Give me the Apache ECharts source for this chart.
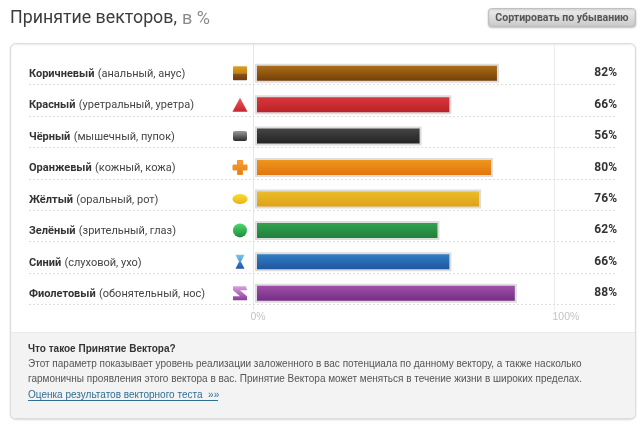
<!DOCTYPE html>
<html><head><meta charset="utf-8">
<style>html,body{margin:0;padding:0;background:#fff}#c{width:640px;height:430px}</style>
<script src="https://cdn.jsdelivr.net/npm/echarts@6/dist/echarts.min.js"></script>
</head><body><div id="c"></div>
<script>
const colorNames = ['Коричневый','Красный','Чёрный','Оранжевый','Жёлтый','Зелёный','Синий','Фиолетовый'];
const organNames = ['(анальный, анус)','(уретральный, уретра)','(мышечный, пупок)','(кожный, кожа)','(оральный, рот)','(зрительный, глаз)','(слуховой, ухо)','(обонятельный, нос)'];
const acceptance = [82,66,56,80,76,62,66,88];
const barTop = ['#b4741a','#dc3a3e','#4a4a4a','#ee9a1e','#ecc02e','#36a552','#3484c8','#a553ad'];
const barBottom = ['#6c3806','#b81f26','#1e1e1e','#e2700c','#dc9e14','#1d7c38','#1c4f9c','#6f2a80'];
const iconKinds = ['box','triangle','slab','plus','ellipse','circle','hourglass','zigzag'];
const titleMain = 'Принятие векторов,';
const titleUnit = 'в %';
const buttonText = 'Сортировать по убыванию';
const noteHead = 'Что такое Принятие Вектора?';
const noteLines = ['Этот параметр показывает уровень реализации заложенного в вас потенциала по данному вектору, а также насколько',
 'гармоничны проявления этого вектора в вас. Принятие Вектора может меняться в течение жизни в широких пределах.'];
const noteLink = 'Оценка результатов векторного теста  »»';

const labelFont = 'Roboto';
function vgrad(a,b){return {type:'linear',x:0,y:0,x2:0,y2:1,colorStops:[{offset:0,color:a},{offset:1,color:b}]};}
function iconShapes(kind,cx,cy){
  const P=(pts,fill)=>({type:'polygon',shape:{points:pts.map(p=>[cx+p[0],cy+p[1]])},style:{fill:fill}});
  switch(kind){
    case 'box': return [{type:'rect',shape:{x:cx-7,y:cy-7,width:14,height:7,r:[1,1,0,0]},style:{fill:vgrad('#dfa022','#c0801a')}},{type:'rect',shape:{x:cx-7,y:cy,width:14,height:7,r:[0,0,1,1]},style:{fill:vgrad('#93531a','#6e3a0c')}}];
    case 'triangle': return [P([[0,-7],[7.5,7],[-7.5,7]],vgrad('#ee5a5a','#c8242c'))];
    case 'slab': return [{type:'rect',shape:{x:cx-7,y:cy-5,width:14,height:10,r:2},style:{fill:vgrad('#9a9a9a','#2a2a2a')}}];
    case 'plus': return [{type:'polygon',shape:{points:[[-2.5,-7],[2.5,-7],[2.5,-2.5],[7,-2.5],[7,2.5],[2.5,2.5],[2.5,7],[-2.5,7],[-2.5,2.5],[-7,2.5],[-7,-2.5],[-2.5,-2.5]].map(p=>[cx+p[0],cy+p[1]])},style:{fill:vgrad('#f7a530','#e8781a'),stroke:'#f09028',lineWidth:1,lineJoin:'round'}}];
    case 'ellipse': return [{type:'ellipse',shape:{cx:cx,cy:cy,rx:7.5,ry:5},style:{fill:vgrad('#f7dc3c','#e8b414')}}];
    case 'circle': return [{type:'circle',shape:{cx:cx,cy:cy,r:7},style:{fill:vgrad('#4fd870','#1f8a3c')}}];
    case 'hourglass': return [P([[-4.5,-7],[4.5,-7],[1,0],[-1,0]],vgrad('#7cc4ee','#4a9ad8')),P([[-1,0],[1,0],[4.5,7],[-4.5,7]],vgrad('#3a7cc8','#1f56a8'))];
    default: return [P([[-7,-7],[6,-7],[7,-3],[0,-3],[7,3],[7,7],[-7,7],[-7,3],[0,3],[-7,-3]],vgrad('#d8a0dc','#8a3c9c'))];
  }
}
const chart = echarts.init(document.getElementById('c'),null,{renderer:'canvas'});
const body='"Liberation Sans"';
chart.setOption({
  animation:false,
  backgroundColor:'#fff',
  grid:{left:255,top:57.5,width:297.5,height:251.5,containLabel:false},
  xAxis:{type:'value',min:0,max:100,interval:100,
    axisLine:{show:false},axisTick:{show:false},splitLine:{show:false},
    axisLabel:{margin:3,alignMinLabel:'center',alignMaxLabel:'left',fontFamily:body,fontSize:10.5,color:'#c4c4c4',
      formatter:v=>v===0?'{a|'+v+'%}':'{b|'+v+'%}',
      rich:{a:{padding:[0,0,0,6],fontFamily:body,fontSize:10.5,color:'#c4c4c4'},b:{padding:[0,0,0,0],fontFamily:body,fontSize:10.5,color:'#c4c4c4'}}}},
  yAxis:{type:'category',inverse:true,data:colorNames,
    axisLine:{show:false},axisTick:{show:false},splitLine:{show:false},
    axisLabel:{margin:226,align:'left',interval:0,padding:[2,0,0,0],
      formatter:(v,i)=>'{n|'+v+'} {o|'+organNames[i]+'}',
      rich:{n:{fontFamily:labelFont,fontWeight:'bold',fontSize:11,color:'#333'},o:{fontFamily:labelFont,fontSize:11,color:'#444'}}}},
  graphic:[
    {type:'rect',z:-10,shape:{x:10.5,y:43.5,width:625,height:375,r:5},style:{fill:'#fff',stroke:'#dcdcdc',lineWidth:1,shadowBlur:2,shadowColor:'rgba(0,0,0,.12)',shadowOffsetY:1}},
    {type:'rect',z:-9,shape:{x:11,y:333,width:624,height:85,r:[0,0,5,5]},style:{fill:'#f3f3f3'}},
    {type:'line',z:-8,shape:{x1:11,y1:332.5,x2:635,y2:332.5},style:{stroke:'#ebebeb',lineWidth:1}},
    {type:'line',z:-8,shape:{x1:253.5,y1:44,x2:253.5,y2:310},style:{stroke:'#e6e6e6',lineWidth:1}},
    {type:'line',z:-8,shape:{x1:554.5,y1:44,x2:554.5,y2:310},style:{stroke:'#ececec',lineWidth:1}},
    {type:'text',x:10,y:10,style:{text:titleMain,fontFamily:labelFont,fontSize:17.8,fill:'#3c3c3c'}},
    {type:'text',x:182,y:10,style:{text:titleUnit,fontFamily:labelFont,fontSize:18,fill:'#8a8a8a'}},
    {type:'rect',shape:{x:488.5,y:8.5,width:147,height:18,r:3},style:{fill:vgrad('#f0f0f0','#c8c8c8'),stroke:'#c0c0c0',lineWidth:1,shadowBlur:2,shadowColor:'rgba(0,0,0,.2)',shadowOffsetY:1}},
    {type:'text',x:562,y:18,style:{text:buttonText,fontFamily:labelFont,fontWeight:'bold',fontSize:10.5,fill:'#555',align:'center',verticalAlign:'middle'}},
    {type:'text',x:28,y:344,style:{text:noteHead,fontFamily:body,fontWeight:'bold',fontSize:10,fill:'#333'}},
    {type:'text',x:28,y:359,style:{text:noteLines[0],fontFamily:body,fontSize:10,fill:'#555'}},
    {type:'text',x:28,y:374.5,style:{text:noteLines[1],fontFamily:body,fontSize:10,fill:'#555'}},
    {type:'text',x:28,y:390,style:{text:noteLink,fontFamily:body,fontSize:10,fill:'#2f6f94'}},
    {type:'line',shape:{x1:28,y1:400.5,x2:218,y2:400.5},style:{stroke:'#2f6f94',lineWidth:1}}
  ],
  series:[
    {type:'custom',name:'rows',coordinateSystem:'cartesian2d',clip:false,z:3,
      data:acceptance.map((v,i)=>[v,i]),
      renderItem:(params,api)=>{
        const i=api.value(1),c=api.coord([0,i]);
        const y=Math.round(c[1]+11)+0.5;
        return {type:'group',children:[
          {type:'line',shape:{x1:29,y1:y,x2:616,y2:y},style:{stroke:'#dedede',lineWidth:1,lineDash:[2,2]}},
          {type:'text',x:617,y:c[1],style:{text:api.value(0)+'%',fontFamily:labelFont,fontWeight:'bold',fontSize:12,fill:'#333',align:'right',verticalAlign:'middle'}},
          ...iconShapes(iconKinds[i],c[0]-15,c[1])
        ]};
      }},
    {type:'bar',name:'Принятие',barWidth:19,z:2,silent:true,
      data:acceptance.map((v,i)=>({value:v,itemStyle:{color:vgrad(barTop[i],barBottom[i]),borderColor:'#dddddd',borderWidth:2}}))}
  ]
});
</script></body></html>
